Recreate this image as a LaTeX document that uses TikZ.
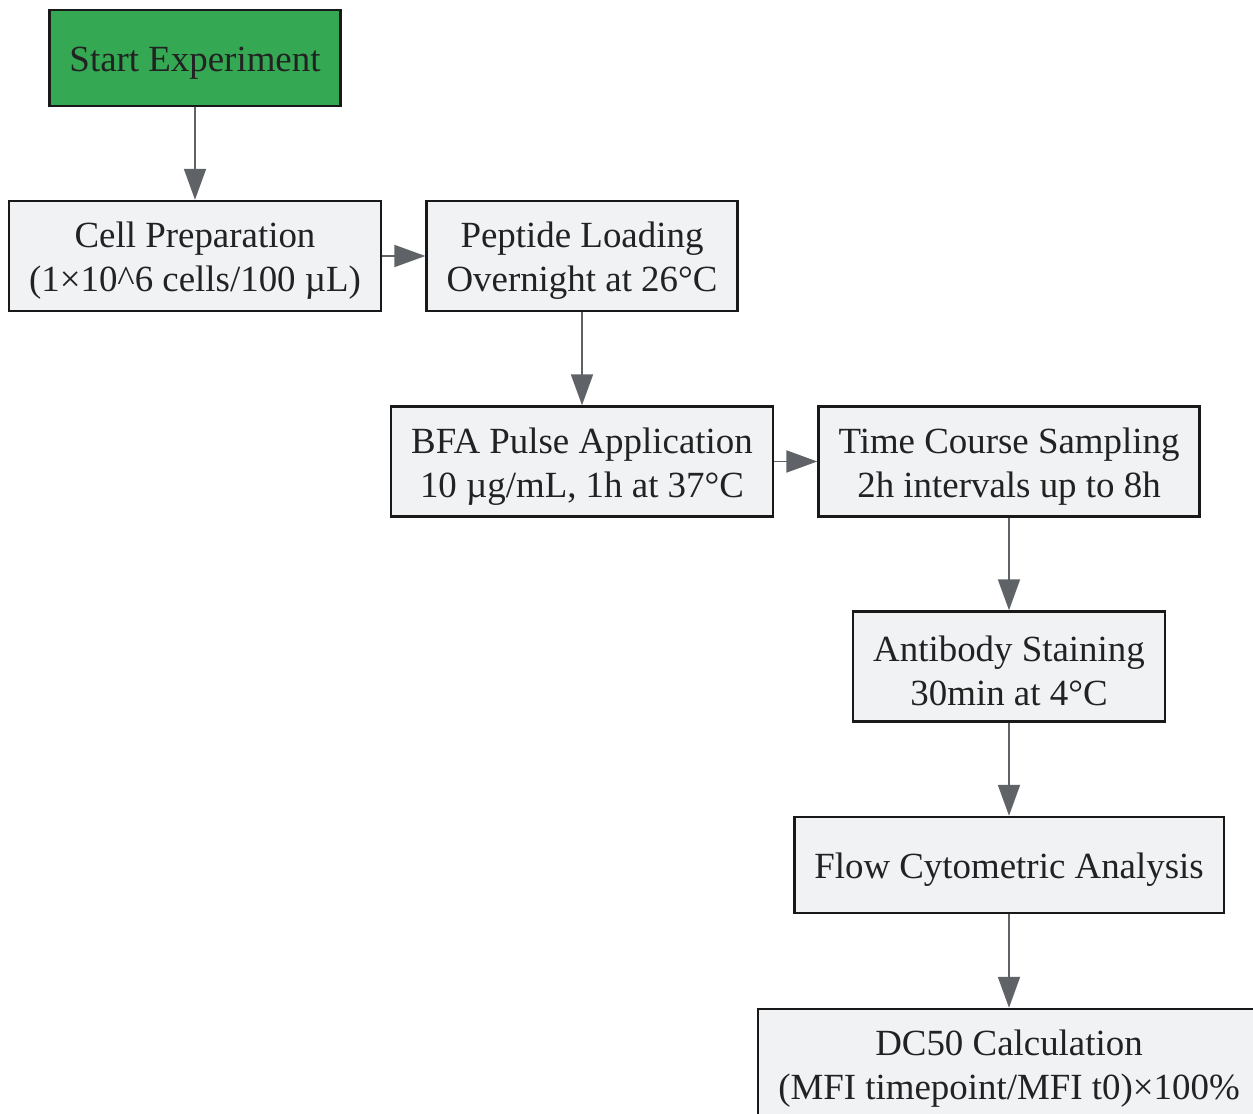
\documentclass[tikz,border=0pt]{standalone}
\usepackage{fontspec}
\setmainfont{Liberation Serif}
\usetikzlibrary{arrows.meta}
\usetikzlibrary{positioning}

\definecolor{startgreen}{RGB}{52,168,83}
\definecolor{stepgray}{RGB}{241,242,244}
\definecolor{linkgray}{RGB}{95,99,104}
\definecolor{textdark}{RGB}{34,34,34}

% pushes the first line a bit down in its box
\newcommand{\topgap}{\rule{0pt}{20pt}}

\tikzset{
  box/.style={draw=black!90,line width=1.4pt,fill=stepgray,text=textdark,align=center,
    inner xsep=0.4cm,inner ysep=0pt,font=\fontsize{21}{25}\selectfont},
  onebox/.style={box,minimum height=1.92cm},
  twobox/.style={box,minimum height=2.2cm},
  link/.style={draw=linkgray,line width=1.1pt,-{Triangle[length=0.62cm,width=0.44cm]}}
}

\begin{document}
\begin{tikzpicture}[x=0.02cm,y=-0.02cm]
\useasboundingbox (0,0) rectangle (1253,1114);
\clip (0,0) rectangle (1253,1114);

\node[onebox,fill=startgreen](start) at (195,58){\topgap Start Experiment};
\node[twobox](cellprep) at (195,256){\topgap Cell Preparation\\(1×10\textasciicircum6 cells/100 µL)};
\node[twobox](peptide) at (582,256){\topgap Peptide Loading\\Overnight at 26°C};
\node[twobox](bfa) at (582,461.5){\topgap BFA Pulse Application\\10 µg/mL, 1h at 37°C};
\node[twobox](timecourse) at (1009,461.5){\topgap Time Course Sampling\\2h intervals up to 8h};
\node[twobox](antibody) at (1009,666.5){\topgap Antibody Staining\\30min at 4°C};
\node[onebox](flow) at (1009,865){\topgap Flow Cytometric Analysis};
\node[twobox](dc50) at (1009,1064){\topgap DC50 Calculation\\(MFI timepoint/MFI t0)×100\%};

% workflow arrows
\draw[link] (start) -- (cellprep);
\draw[link] (cellprep) -- (peptide);
\draw[link] (peptide) -- (bfa);
\draw[link] (bfa) -- (timecourse);
\draw[link] (timecourse) -- (antibody);
\draw[link] (antibody) -- (flow);
\draw[link] (flow) -- (dc50);
\end{tikzpicture}
\end{document}
